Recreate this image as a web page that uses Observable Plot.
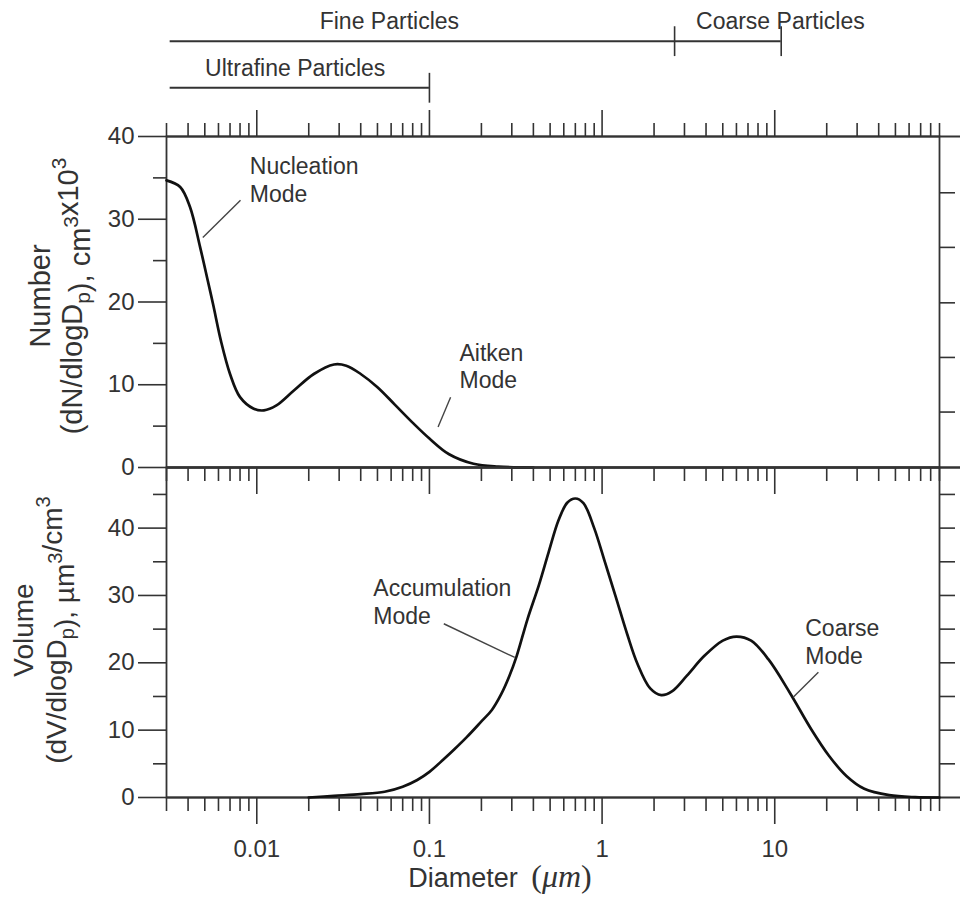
<!DOCTYPE html>
<html>
<head>
<meta charset="utf-8">
<script src="https://cdn.jsdelivr.net/npm/d3@7"></script>
<script src="https://cdn.jsdelivr.net/npm/@observablehq/plot@0.6"></script>
<style>
  body { margin: 0; background: #fff; }
  #chart { width: 960px; height: 901px; position: relative; }
  #chart svg { display: block; overflow: visible; }
</style>
</head>
<body>
<div id="chart"></div>
<script>
// ---- Data ---------------------------------------------------------------
// Particle diameter axis (µm), log scale
const xDomain = [0.003, 90];
const xMajor = [0.01, 0.1, 1, 10];
const xTickLabels = ["0.01", "0.1", "1", "10"];
const xMinor = [0.003, 0.004, 0.005, 0.006, 0.007, 0.008, 0.009,
                0.02, 0.03, 0.04, 0.05, 0.06, 0.07, 0.08, 0.09,
                0.2, 0.3, 0.4, 0.5, 0.6, 0.7, 0.8, 0.9,
                2, 3, 4, 5, 6, 7, 8, 9,
                20, 30, 40, 50, 60, 70, 80, 90];

// Number distribution dN/dlogDp (cm^-3 x 10^3)
const numberDiameter = [0.003, 0.0036, 0.0041, 0.0047, 0.0052, 0.0056, 0.0062, 0.007, 0.008, 0.0096,
                        0.011, 0.013, 0.0164, 0.0214, 0.028, 0.033, 0.04, 0.05, 0.063, 0.081,
                        0.1, 0.13, 0.18, 0.25, 0.4];
const numberValue    = [34.7, 33.9, 31.5, 26.6, 22.6, 19.6, 15.3, 11.3, 8.5, 7.1,
                        6.9, 7.5, 9.3, 11.3, 12.45, 12.3, 11.3, 9.7, 7.6, 5.3,
                        3.5, 1.6, 0.45, 0.1, 0];

// Volume distribution dV/dlogDp (µm^3/cm^3)
const volumeDiameter = [0.02, 0.028, 0.04, 0.055, 0.07, 0.085, 0.1, 0.12, 0.14, 0.165,
                        0.2, 0.23, 0.26, 0.29, 0.32, 0.37, 0.43, 0.49, 0.56, 0.63,
                        0.7, 0.78, 0.9, 1.04, 1.2, 1.4, 1.6, 1.9, 2.2, 2.55,
                        3.1, 3.9, 5.0, 6.0, 7.3, 9.2, 12.2, 16.3, 20.6, 26,
                        33, 46, 65, 90];
const volumeValue    = [0, 0.25, 0.5, 0.85, 1.6, 2.6, 3.8, 5.6, 7.2, 9.0,
                        11.3, 13.0, 15.3, 18.0, 21.0, 26.5, 31.5, 36.4, 41.2, 43.8,
                        44.4, 43.7, 40.0, 34.9, 29.8, 24.2, 19.9, 16.2, 15.2, 15.8,
                        18.1, 21.0, 23.3, 23.9, 23.3, 20.5, 15.6, 10.1, 6.2, 3.2,
                        1.3, 0.35, 0.05, 0];

// Size classes shown as brackets above the chart
const classNames = ["Fine Particles", "Coarse Particles", "Ultrafine Particles"];
const classRow   = [2, 2, 1];
const classFrom  = [0.00315, 2.63, 0.00315];
const classTo    = [2.63, 10.9, 0.1];
const classLabelAt = [0.0586, 10.78, 0.0167];

// Y ticks
const numberMajor = [0, 10, 20, 30, 40];
const numberMinor = [5, 15, 25, 35];
const numberRight = [6.7, 13.3, 19.9, 26.6, 33.2];
const volumeMajor = [0, 10, 20, 30, 40];
const volumeMinor = [5, 15, 25, 35, 45];
const volumeRight = [5, 10, 15, 20, 25, 30, 35, 40, 45];

// Mode annotations: label anchor and leader line (diameter, value)
const numberModes = ["Nucleation\nMode", "Aitken\nMode"];
const numberModeAt = [[0.00911, 32.1], [0.1493, 9.55]];
const numberLeaders = [[0.00805, 32.3, 0.00487, 27.8], [0.1326, 8.5, 0.1122, 4.9]];
const volumeModes = ["Accumulation\nMode", "Coarse\nMode"];
const volumeModeAt = [[0.0473, 25.8], [15.02, 19.85]];
const volumeLeaders = [[0.1211, 25.8, 0.3121, 20.8], [17.89, 18.6, 12.79, 14.9]];

// ---- Tables built from the arrays --------------------------------------
const numberDist = numberDiameter.map((d, i) => ({d, v: numberValue[i]}));
const volumeDist = volumeDiameter.map((d, i) => ({d, v: volumeValue[i]}));
const sizeClasses = classNames.map((name, i) => ({name, row: classRow[i], from: classFrom[i], to: classTo[i], labelAt: classLabelAt[i]}));
const toModes = (names, at) => names.map((text, i) => ({text, d: at[i][0], v: at[i][1]}));
const toLeaders = (rows) => rows.map(([d1, v1, d2, v2]) => ({d1, v1, d2, v2}));

// ---- Styling -------------------------------------------------------------
const ink = "#333";
const sans = '"Liberation Sans", Arial, Helvetica, sans-serif';
const serif = '"Liberation Serif", "DejaVu Serif", serif';
const svgStyle = {overflow: "visible", background: "transparent", color: ink, fontFamily: sans};
const frameLeft = 166, frameRight = 21;
const tickW = 1.6;
const blank = () => "";

const chart = document.getElementById("chart");

// Header: size-class brackets
const header = Plot.plot({
  width: 960, height: 108,
  marginLeft: frameLeft, marginRight: frameRight, marginTop: 0, marginBottom: 0,
  style: svgStyle,
  x: {type: "log", domain: xDomain, axis: null},
  y: {domain: [1, 2], range: [87.3, 40.7], axis: null},
  marks: [
    Plot.ruleY(sizeClasses, {y: "row", x1: "from", x2: "to", stroke: ink, strokeWidth: 2}),
    Plot.ruleX(sizeClasses, {x: "to", y1: d => d.row - 0.33, y2: d => d.row + 0.31, stroke: ink, strokeWidth: 1.6}),
    Plot.text(sizeClasses, {x: "labelAt", y: "row", text: "name", dy: -12, lineAnchor: "bottom",
                            fontSize: 23, fill: ink})
  ]
});
chart.appendChild(header);

// Upper panel: number distribution
const numberPanel = Plot.plot({
  width: 960, height: 359,
  marginLeft: frameLeft, marginRight: frameRight, marginTop: 28, marginBottom: 0,
  style: svgStyle,
  x: {type: "log", domain: xDomain},
  y: {domain: [0, 40]},
  marks: [
    Plot.axisX(xMajor, {anchor: "top", tickSize: 27, tickFormat: blank, label: null, strokeWidth: tickW}),
    Plot.axisX(xMinor, {anchor: "top", tickSize: 14, tickFormat: blank, label: null, strokeWidth: tickW}),
    Plot.axisY(numberMajor, {anchor: "left", tickSize: 28, tickPadding: 4, fontSize: 24, label: null, strokeWidth: tickW}),
    Plot.axisY(numberMinor, {anchor: "left", tickSize: 13, tickFormat: blank, label: null, strokeWidth: tickW}),
    Plot.axisY(numberRight, {anchor: "right", tickSize: 15, tickFormat: blank, label: null, strokeWidth: tickW}),
    Plot.ruleY([40, 0], {insetRight: -frameRight, stroke: ink, strokeWidth: 1.8}),
    Plot.frame({stroke: ink, strokeWidth: 1.8}),
    Plot.line(numberDist, {x: "d", y: "v", curve: "catmull-rom", stroke: "#111", strokeWidth: 2.7}),
    Plot.link(toLeaders(numberLeaders), {x1: "d1", y1: "v1", x2: "d2", y2: "v2", stroke: "#444", strokeWidth: 1.4}),
    Plot.text(toModes(numberModes, numberModeAt), {x: "d", y: "v", text: "text", textAnchor: "start",
              lineAnchor: "bottom", lineHeight: 1.2, fontSize: 23, fill: ink})
  ]
});
chart.appendChild(numberPanel);

// Lower panel: volume distribution
const labelFor = d => xTickLabels[xMajor.indexOf(d)];
const volumePanel = Plot.plot({
  width: 960, height: 434,
  marginLeft: frameLeft, marginRight: frameRight, marginTop: 0, marginBottom: 104,
  style: svgStyle,
  x: {type: "log", domain: xDomain},
  y: {domain: [0, 49]},
  marks: [
    // ticks hanging down from the shared upper edge
    Plot.ruleX(xMajor, {insetBottom: 303, stroke: ink, strokeWidth: tickW}),
    Plot.ruleX(xMinor, {insetBottom: 316, stroke: ink, strokeWidth: tickW}),
    Plot.axisX(xMajor, {anchor: "bottom", tickSize: 27, tickPadding: 15, fontSize: 24, tickFormat: labelFor, label: null, strokeWidth: tickW}),
    Plot.axisX(xMinor, {anchor: "bottom", tickSize: 14, tickFormat: blank, label: null, strokeWidth: tickW}),
    Plot.axisY(volumeMajor, {anchor: "left", tickSize: 28, tickPadding: 4, fontSize: 24, label: null, strokeWidth: tickW}),
    Plot.axisY(volumeMinor, {anchor: "left", tickSize: 13, tickFormat: blank, label: null, strokeWidth: tickW}),
    Plot.axisY(volumeRight, {anchor: "right", tickSize: 15, tickFormat: blank, label: null, strokeWidth: tickW}),
    Plot.ruleY([49, 0], {insetRight: -frameRight, stroke: ink, strokeWidth: 1.8}),
    Plot.frame({stroke: ink, strokeWidth: 1.8}),
    Plot.line(volumeDist, {x: "d", y: "v", curve: "catmull-rom", stroke: "#111", strokeWidth: 2.7}),
    Plot.link(toLeaders(volumeLeaders), {x1: "d1", y1: "v1", x2: "d2", y2: "v2", stroke: "#444", strokeWidth: 1.4}),
    Plot.text(toModes(volumeModes, volumeModeAt), {x: "d", y: "v", text: "text", textAnchor: "start",
              lineAnchor: "bottom", lineHeight: 1.2, fontSize: 23, fill: ink})
  ]
});
chart.appendChild(volumePanel);

// ---- Axis titles (rich text with sub/superscripts) ----------------------
function rotatedTitle(svg, cy, x1, x2, size, line1, line2) {
  const g = d3.select(svg).append("g")
    .attr("fill", ink).attr("font-family", sans).attr("font-size", size).attr("text-anchor", "middle");
  g.append("text").attr("transform", `translate(${x1},${cy}) rotate(-90)`).text(line1);
  const t = g.append("text").attr("transform", `translate(${x2},${cy}) rotate(-90)`);
  for (const [str, kind] of line2) {
    const s = t.append("tspan").text(str);
    if (kind === "sub") s.attr("font-size", size * 0.72).attr("dy", size * 0.28);
    else if (kind === "sup") s.attr("font-size", size * 0.72).attr("dy", -size * 0.42);
    // return to the baseline after a shifted run
    if (kind === "sub") t.append("tspan").attr("dy", -size * 0.28).text("");
    if (kind === "sup") t.append("tspan").attr("dy", size * 0.42).text("");
  }
}

rotatedTitle(numberPanel, 188, 50, 82, 29, "Number", [
  ["(dN/dlogD"], ["p", "sub"], ["), cm"], ["3", "sup"], ["x10"], ["3", "sup"]
]);
rotatedTitle(volumePanel, 163, 33, 66, 28, "Volume", [
  ["(dV/dlogD"], ["p", "sub"], ["), \u00b5m"], ["3", "sup"], ["/cm"], ["3", "sup"]
]);

// x-axis title: "Diameter (µm)" with the unit set in math italic
{
  const t = d3.select(volumePanel).append("text")
    .attr("x", 500).attr("y", 420).attr("text-anchor", "middle").attr("fill", ink);
  t.append("tspan").attr("font-family", sans).attr("font-size", 27).text("Diameter\u2002");
  t.append("tspan").attr("font-family", serif).attr("font-size", 32).text("(");
  t.append("tspan").attr("font-family", serif).attr("font-size", 32).attr("font-style", "italic").text("\u03bcm");
  t.append("tspan").attr("font-family", serif).attr("font-size", 32).text(")");
}
</script>
</body>
</html>
